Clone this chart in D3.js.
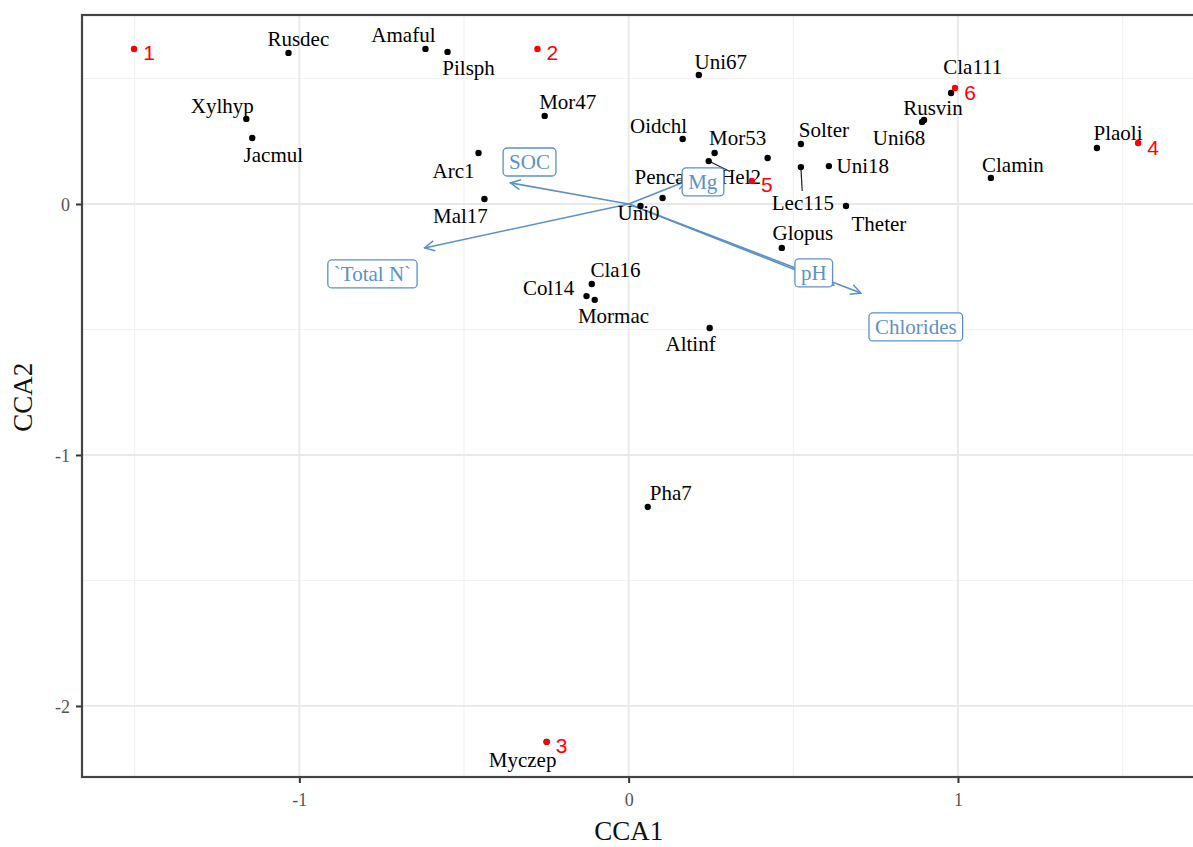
<!DOCTYPE html>
<html>
<head>
<meta charset="utf-8">
<script src="https://cdn.jsdelivr.net/npm/d3@7"></script>
<style>
  body { margin: 0; background: #fff; }
  svg { display: block; }
</style>
</head>
<body>
<svg id="chart" width="1193" height="847"></svg>
<script>
// species scores (dots) and where their repelled labels ended up
const species = ["Rusdec", "Amaful", "Pilsph", "Xylhyp", "Jacmul", "Arc1", "Mal17", "Mor47", "Uni67", "Oidchl",
  "Mor53", "Hel2", "", "Penca", "Uni0", "Solter", "Lec115", "Uni18", "Theter", "Glopus",
  "Rusvin", "Cla111", "Uni68", "Clamin", "Plaoli", "Cla16", "Col14", "Mormac", "Altinf", "Pha7", "Myczep"];
const spX = [-1.033, -0.617, -0.550, -1.161, -1.143, -0.456, -0.438, -0.255, 0.213, 0.164,
  0.261, 0.243, 0.422, 0.103, 0.036, 0.523, 0.523, 0.608, 0.660, 0.465,
  0.897, 0.979, 0.891, 1.100, 1.422, -0.112, -0.128, -0.103, 0.246, 0.058, -0.249];
const spY = [0.602, 0.618, 0.606, 0.339, 0.263, 0.203, 0.020, 0.351, 0.514, 0.259,
  0.203, 0.171, 0.183, 0.024, -0.008, 0.239, 0.147, 0.151, -0.008, -0.175,
  0.335, 0.442, 0.327, 0.104, 0.223, -0.319, -0.367, -0.382, -0.494, -1.207, -2.143];
const labX = [-1.003, -0.684, -0.486, -1.234, -1.079, -0.532, -0.511, -0.185, 0.280, 0.091,
  0.331, 0.340, null, 0.094, 0.030, 0.593, 0.529, 0.711, 0.760, 0.529,
  0.924, 1.045, 0.821, 1.167, 1.486, -0.040, -0.243, -0.046, 0.188, 0.128, -0.322];
const labY = [0.657, 0.673, 0.542, 0.390, 0.195, 0.131, -0.048, 0.406, 0.566, 0.311,
  0.263, 0.108, null, 0.108, -0.036, 0.295, 0.004, 0.151, -0.080, -0.116,
  0.382, 0.545, 0.263, 0.155, 0.283, -0.263, -0.335, -0.446, -0.558, -1.151, -2.215];
const withSegment = ["Lec115", "Hel2"];

// site scores (red)
const siteIds = ["1", "2", "3", "4", "5", "6"];
const siteX = [-1.502, -0.277, -0.249, 1.547, 0.374, 0.991];
const siteY = [0.618, 0.618, -2.143, 0.243, 0.092, 0.462];

// environmental vectors
const envNames = ["SOC", "Mg", "`Total N`", "pH", "Chlorides"];
const envX = [-0.359, 0.176, -0.620, 0.623, 0.705];
const envY = [0.084, 0.092, -0.175, -0.323, -0.355];
const envLabX = [-0.301, 0.225, -0.778, 0.562, 0.872];
const envLabY = [0.167, 0.088, -0.279, -0.275, -0.490];

const xTicks = [-1, 0, 1], yTicks = [-2, -1, 0];
const xMinor = [-1.5, -0.5, 0.5, 1.5], yMinor = [-1.5, -0.5, 0.5];

const svg = d3.select("#chart");
const margin = { top: 15, right: -8, bottom: 70, left: 82 },
  width = 1193, height = 847,
  plotWidth = width - margin.left - margin.right,
  plotHeight = height - margin.top - margin.bottom;

const serif = "'Liberation Serif', 'Times New Roman', serif";
const blue = "#5d91c6";

const x = d3.scaleLinear().domain([-1.66, 1.738]).range([0, plotWidth]);
const y = d3.scaleLinear().domain([-2.283, 0.753]).range([plotHeight, 0]);

const g = svg.append("g").attr("transform", `translate(${margin.left},${margin.top})`);

// grid
g.selectAll(".minor-x").data(xMinor).join("line")
  .attr("x1", d => x(d)).attr("x2", d => x(d)).attr("y1", 0).attr("y2", plotHeight)
  .attr("stroke", "#f2f2f2").attr("stroke-width", 1.2);
g.selectAll(".minor-y").data(yMinor).join("line")
  .attr("y1", d => y(d)).attr("y2", d => y(d)).attr("x1", 0).attr("x2", plotWidth)
  .attr("stroke", "#f2f2f2").attr("stroke-width", 1.2);
g.selectAll(".major-x").data(xTicks).join("line")
  .attr("x1", d => x(d)).attr("x2", d => x(d)).attr("y1", 0).attr("y2", plotHeight)
  .attr("stroke", "#e8e8e8").attr("stroke-width", 1.8);
g.selectAll(".major-y").data(yTicks).join("line")
  .attr("y1", d => y(d)).attr("y2", d => y(d)).attr("x1", 0).attr("x2", plotWidth)
  .attr("stroke", "#e8e8e8").attr("stroke-width", 1.8);

// axes
const xAxis = g.append("g").attr("transform", `translate(0,${plotHeight})`)
  .call(d3.axisBottom(x).tickValues(xTicks).tickFormat(d => String(d)).tickSize(6).tickPadding(10));
const yAxis = g.append("g")
  .call(d3.axisLeft(y).tickValues(yTicks).tickFormat(d => String(d)).tickSize(6).tickPadding(6));
[xAxis, yAxis].forEach(a => {
  a.select(".domain").remove();
  a.selectAll("line").attr("stroke", "#333").attr("stroke-width", 2);
  a.selectAll("text").attr("fill", "#555").style("font-family", serif).style("font-size", "18px");
});
yAxis.selectAll("text").attr("dy", "0.35em");

// panel border
g.append("rect").attr("width", plotWidth).attr("height", plotHeight)
  .attr("fill", "none").attr("stroke", "#444").attr("stroke-width", 2.2);

svg.append("text").attr("x", margin.left + x(0)).attr("y", 840)
  .attr("text-anchor", "middle").style("font-family", serif).style("font-size", "27px").attr("fill", "#111")
  .text("CCA1");
svg.append("text").attr("transform", `translate(32,${margin.top + y(-0.77)}) rotate(-90)`)
  .attr("text-anchor", "middle").style("font-family", serif).style("font-size", "27px").attr("fill", "#111")
  .text("CCA2");

// arrows
svg.append("defs").append("marker")
  .attr("id", "head").attr("viewBox", "0 0 12 12").attr("refX", 11).attr("refY", 6)
  .attr("markerWidth", 12).attr("markerHeight", 12).attr("markerUnits", "userSpaceOnUse")
  .attr("orient", "auto")
  .append("path").attr("d", "M1,1 L11,6 L1,11").attr("fill", "none").attr("stroke", blue).attr("stroke-width", 1.5);

g.selectAll(".env-arrow").data(envNames).join("line")
  .attr("class", "env-arrow")
  .attr("x1", x(0)).attr("y1", y(0))
  .attr("x2", (d, i) => x(envX[i])).attr("y2", (d, i) => y(envY[i]))
  .attr("stroke", blue).attr("stroke-width", 1.6).attr("marker-end", "url(#head)");

// species
const sp = species.map((name, i) => ({ name, x: spX[i], y: spY[i], lx: labX[i], ly: labY[i] }));

sp.filter(d => withSegment.includes(d.name)).forEach(d => {
  const x0 = x(d.x), y0 = y(d.y), x1 = x(d.lx), y1 = y(d.ly);
  const len = Math.hypot(x1 - x0, y1 - y0), k = (len - 12) / len;
  g.append("line").attr("x1", x0).attr("y1", y0)
    .attr("x2", x0 + (x1 - x0) * k).attr("y2", y0 + (y1 - y0) * k)
    .attr("stroke", "#222").attr("stroke-width", 1.2);
});

g.selectAll(".sp-dot").data(sp).join("circle")
  .attr("cx", d => x(d.x)).attr("cy", d => y(d.y)).attr("r", 3.2).attr("fill", "#000");

g.selectAll(".sp-label").data(sp.filter(d => d.name)).join("text")
  .attr("x", d => x(d.lx)).attr("y", d => y(d.ly)).attr("dy", "0.33em")
  .attr("text-anchor", "middle").style("font-family", serif).style("font-size", "21px")
  .attr("fill", "#000").text(d => d.name);

// sites
const sites = siteIds.map((id, i) => ({ id, x: siteX[i], y: siteY[i] }));
g.selectAll(".site-dot").data(sites).join("circle")
  .attr("cx", d => x(d.x)).attr("cy", d => y(d.y)).attr("r", 3.2).attr("fill", "#ff0000");
g.selectAll(".site-label").data(sites).join("text")
  .attr("x", d => x(d.x) + 15).attr("y", d => y(d.y) + 4).attr("dy", "0.36em")
  .attr("text-anchor", "middle").style("font-family", "'Liberation Sans', Arial, sans-serif")
  .style("font-size", "21px").attr("fill", "#ff0000").text(d => d.id);

// env labels in boxes
envNames.forEach((name, i) => {
  const lg = g.append("g").attr("transform", `translate(${x(envLabX[i])},${y(envLabY[i])})`);
  const t = lg.append("text").attr("dy", "0.33em").attr("text-anchor", "middle")
    .style("font-family", serif).style("font-size", "21px").attr("fill", blue).text(name);
  const bb = t.node().getBBox();
  lg.insert("rect", "text")
    .attr("x", bb.x - 6).attr("y", bb.y - 2).attr("width", bb.width + 12).attr("height", bb.height + 4)
    .attr("rx", 4).attr("fill", "#fff").attr("stroke", blue).attr("stroke-width", 1.3);
});
</script>
</body>
</html>
